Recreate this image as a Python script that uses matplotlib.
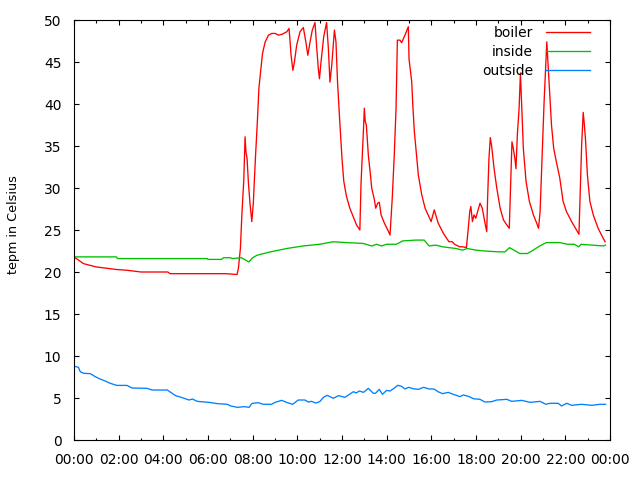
import matplotlib
matplotlib.use("Agg")
import matplotlib.pyplot as plt
from matplotlib.ticker import MultipleLocator, FixedLocator

plt.rcParams['font.family'] = ['DejaVu Sans']

# time in hours since 00:00
boiler_t = [0.0, 0.42, 1.0, 1.9, 2.4, 3.0, 4.2, 4.3, 6.8, 7.3, 7.36, 7.45, 7.52, 7.6, 7.66,
            7.7, 7.75, 7.81, 7.88, 7.96, 8.03, 8.07, 8.13, 8.21, 8.28, 8.37, 8.44, 8.56, 8.71,
            8.86, 9.01, 9.16, 9.31, 9.53, 9.63, 9.72, 9.8, 9.87, 9.97, 10.12, 10.27, 10.38,
            10.47, 10.57, 10.67, 10.79, 10.87, 10.94, 10.99, 11.06, 11.18, 11.31, 11.39, 11.46,
            11.54, 11.66, 11.73, 11.8, 11.9, 12.0, 12.08, 12.2, 12.35, 12.5, 12.65, 12.8, 12.85,
            12.91, 12.97, 13.0, 13.04, 13.09, 13.18, 13.26, 13.33, 13.45, 13.51, 13.6, 13.67,
            13.75, 13.9, 14.05, 14.15, 14.25, 14.34, 14.42, 14.48, 14.6, 14.67, 14.82, 14.94,
            14.97, 15.0, 15.12, 15.17, 15.24, 15.35, 15.42, 15.57, 15.72, 15.99, 16.13, 16.31,
            16.54, 16.79, 16.94, 17.04, 17.27, 17.42, 17.57, 17.64, 17.72, 17.77, 17.84, 17.91,
            17.99, 18.18, 18.28, 18.39, 18.48, 18.52, 18.58, 18.64, 18.7, 18.81, 18.93, 19.08,
            19.23, 19.38, 19.49, 19.55, 19.61, 19.67, 19.74, 19.79, 19.85, 19.93, 19.99, 20.05,
            20.12, 20.24, 20.39, 20.57, 20.72, 20.8, 20.87, 20.96, 21.05, 21.13, 21.17, 21.23,
            21.32, 21.38, 21.48, 21.6, 21.75, 21.9, 22.05, 22.28, 22.5, 22.61, 22.67, 22.73,
            22.8, 22.84, 22.9, 22.99, 23.1, 23.25, 23.47, 23.62, 23.78]
boiler_v = [21.8, 21.0, 20.6, 20.3, 20.2, 20.0, 20.0, 19.8, 19.8, 19.7, 20.4, 22.8, 27.0, 30.8, 36.1,
            34.3, 33.5, 30.6, 28.2, 26.0, 28.2, 30.6, 33.9, 37.9, 41.9, 44.2, 46.0, 47.4, 48.2,
            48.4, 48.4, 48.2, 48.3, 48.6, 49.0, 45.8, 44.0, 45.0, 47.0, 48.6, 49.1, 47.4,
            45.8, 47.4, 48.8, 49.7, 46.6, 44.2, 43.0, 45.0, 48.0, 49.7, 46.6, 42.6,
            44.6, 48.8, 47.4, 42.6, 37.9, 33.5, 30.8, 29.0, 27.6, 26.6, 25.6, 25.0, 30.4,
            33.9, 37.5, 39.5, 37.9, 37.5, 33.9, 31.9, 30.0, 28.6, 27.6, 28.2, 28.3,
            26.8, 25.8, 25.0, 24.4, 28.8, 33.9, 39.5, 47.6, 47.6, 47.3, 48.2, 49.0,
            49.2, 45.4, 42.7, 39.9, 36.7, 33.5, 31.5, 29.2, 27.6, 26.0, 27.4, 25.8,
            24.6, 23.6, 23.6, 23.3, 23.0, 23.0, 22.9, 24.8, 27.2, 27.8, 26.0, 26.8,
            26.4, 28.2, 27.6, 26.0, 24.8, 28.8, 33.5, 36.0, 35.0, 32.3, 30.0, 27.6,
            26.2, 25.6, 25.2, 30.4, 35.5, 34.7, 33.5, 32.3, 36.3, 39.5, 43.7, 39.5,
            34.7, 30.8, 28.4, 26.8, 25.8, 25.2, 27.2, 33.9, 40.3, 45.0, 47.4, 44.6,
            40.3, 37.5, 34.7, 33.1, 31.2, 28.4, 27.2, 26.0, 25.0, 24.5, 30.0, 35.1,
            39.0, 37.9, 35.9, 31.5, 28.4, 26.8, 25.2, 24.4, 23.6]

inside_t = [0.0, 1.9, 1.95, 5.96, 6.0, 6.6, 6.7, 7.0, 7.1, 7.5, 7.83, 8.0, 8.2, 8.8, 9.53, 10.26,
            11.0, 11.6, 12.2, 12.95, 13.33, 13.55, 13.77, 14.0, 14.43, 14.72, 15.3, 15.68, 15.9,
            16.2, 16.5, 16.8, 17.1, 17.4, 17.6, 18.0, 18.4, 19.0, 19.3, 19.5, 19.7, 19.96, 20.3,
            20.5, 20.85, 21.15, 21.75, 22.1, 22.4, 22.6, 22.7, 23.2, 23.7, 23.8]
inside_v = [21.8, 21.8, 21.6, 21.6, 21.5, 21.5, 21.7, 21.7, 21.6, 21.7, 21.2, 21.7, 22.0, 22.4, 22.8, 23.1,
            23.3, 23.6, 23.5, 23.4, 23.1, 23.3, 23.1, 23.3, 23.3, 23.7, 23.8, 23.8, 23.1,
            23.2, 23.0, 22.9, 22.8, 22.6, 22.8, 22.6, 22.5, 22.4, 22.4, 22.9, 22.6, 22.2, 22.2,
            22.5, 23.1, 23.5, 23.5, 23.3, 23.3, 23.0, 23.3, 23.2, 23.1, 23.2]

outside_t = [0.0, 0.2, 0.28, 0.43, 0.73, 0.95, 1.17, 1.4, 1.62, 1.92, 2.37, 2.6, 3.27, 3.5, 4.18,
             4.33, 4.55, 4.85, 5.15, 5.3, 5.52, 6.05, 6.42, 6.87, 7.02, 7.32, 7.62, 7.84, 7.95,
             8.0, 8.25, 8.48, 8.85, 9.0, 9.3, 9.52, 9.79, 10.04, 10.34, 10.49, 10.64, 10.82,
             11.0, 11.17, 11.34, 11.61, 11.84, 12.13, 12.36, 12.51, 12.63, 12.78, 12.96, 13.18,
             13.4, 13.5, 13.67, 13.81, 14.0, 14.15, 14.33, 14.49, 14.67, 14.82, 14.97, 15.2,
             15.42, 15.65, 15.91, 16.12, 16.3, 16.5, 16.76, 16.98, 17.28, 17.43, 17.66, 17.88,
             18.18, 18.4, 18.7, 18.93, 19.38, 19.6, 20.05, 20.42, 20.87, 21.13, 21.31, 21.68,
             21.83, 22.06, 22.28, 22.73, 23.18, 23.55, 23.8]
outside_v = [8.8, 8.65, 8.13, 7.94, 7.9, 7.54, 7.26, 7.02, 6.75, 6.5, 6.5, 6.19, 6.15, 5.95, 5.95,
             5.67, 5.28, 5.04, 4.76, 4.88, 4.6, 4.48, 4.33, 4.25, 4.05, 3.89, 3.97, 3.89, 4.29,
             4.37, 4.44, 4.25, 4.25, 4.48, 4.72, 4.48, 4.25, 4.76, 4.76, 4.52, 4.6, 4.4,
             4.56, 5.08, 5.32, 4.96, 5.28, 5.08, 5.48, 5.75, 5.6, 5.83, 5.67, 6.15,
             5.56, 5.56, 6.03, 5.44, 5.91, 5.83, 6.15, 6.51, 6.39, 6.07, 6.27, 6.1,
             6.03, 6.27, 6.07, 6.07, 5.75, 5.52, 5.67, 5.44, 5.16, 5.36, 5.2, 4.92,
             4.84, 4.52, 4.56, 4.76, 4.84, 4.6, 4.72, 4.48, 4.6, 4.25, 4.37, 4.37,
             4.05, 4.37, 4.13, 4.25, 4.13, 4.25, 4.25]

series_names = ["boiler", "inside", "outside"]
series_colors = ["#ff0000", "#00c000", "#0080ff"]

xtick_pos = [0, 2, 4, 6, 8, 10, 12, 14, 16, 18, 20, 22, 24]
xtick_labels = ["00:00", "02:00", "04:00", "06:00", "08:00", "10:00", "12:00",
                "14:00", "16:00", "18:00", "20:00", "22:00", "00:00"]
y_label = "tepm in Celsius"

fig = plt.figure(figsize=(6.4, 4.8), dpi=100)
ax = fig.add_axes([74/640, 40/480, 536/640, 420/480])

for t, v, name, c in zip([boiler_t, inside_t, outside_t],
                         [boiler_v, inside_v, outside_v],
                         series_names, series_colors):
    ax.plot(t, v, color=c, lw=0.95, label=name)

ax.set_xlim(0, 24)
ax.set_ylim(0, 50)
ax.xaxis.set_major_locator(FixedLocator(xtick_pos))
ax.set_xticklabels(xtick_labels)
ax.xaxis.set_minor_locator(MultipleLocator(1))
ax.yaxis.set_major_locator(MultipleLocator(5))

ax.tick_params(which='both', direction='in', top=True, right=True,
               labelsize=10, colors='black', width=0.8)
ax.tick_params(which='major', length=3.3, pad=9)
ax.tick_params(which='minor', length=1.8)
for s in ax.spines.values():
    s.set_linewidth(0.8)
    s.set_color('black')

ax.set_ylabel(y_label, fontsize=9.2)
ax.yaxis.set_label_coords(-0.1, 0.514)

leg = ax.legend(loc='upper right', bbox_to_anchor=(0.9627, 0.985), frameon=False,
                markerfirst=False, fontsize=10, handlelength=3.2, handletextpad=0.9,
                labelspacing=0.36, borderaxespad=0, borderpad=0)

fig.savefig("out.png", dpi=100)
